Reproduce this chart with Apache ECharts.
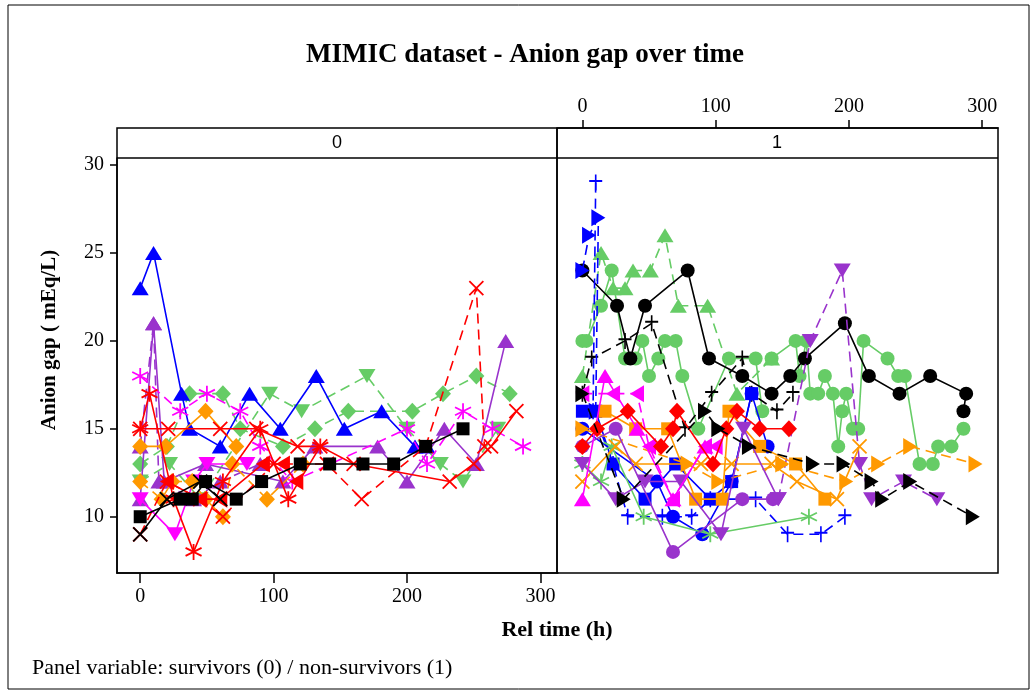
<!DOCTYPE html>
<html>
<head>
<meta charset="utf-8">
<script src="https://cdn.jsdelivr.net/npm/echarts@6/dist/echarts.min.js"></script>
<style>html,body{margin:0;padding:0;background:#fff}#c{width:1036px;height:694px}</style>
</head>
<body>
<div id="c"></div>
<script>
// ---------- DATA (rel time h, anion gap mEq/L) ----------
const xTicks = [0, 100, 200, 300];
const yTicks = [10, 15, 20, 25, 30];
const panelLabels = ['0', '1'];

// Panel 0 (survivors)
const L_blueTri = [[0,23],[10,25],[31,17],[37,15],[60,14],[82,17],[105,15],[132,18],[153,15],[181,16],[206,14],[215,14]];
const L_purpleTri = [[0,11],[10,21],[18,12],[49,13],[107,12],[131,14],[178,14],[200,12],[228,15],[252,13],[274,20]];
const L_purpleTri2 = [[0,14],[10,21],[14,12],[40,11],[60,12],[90,13]];
const L_greenDiam = [[0,13],[20,14],[37,17],[62,17],[75,15],[107,14],[131,15],[156,16],[204,16],[227,17],[252,18],[277,17]];
const L_greenTriDown = [[0,12],[22,13],[45,11],[97,17],[121,16],[170,18],[200,15],[225,13],[242,12],[268,15]];
const L_redX = [[0,15],[21,15],[60,15],[87,15],[118,14],[135,14],[160,13],[232,12],[250,13],[263,14],[282,16]];
const L_redXdash = [[0,9],[20,12],[45,11],[62,10],[100,13],[140,13],[166,11],[214,14],[252,23],[258,14]];
const L_redAster = [[0,15],[7,17],[25,11],[40,8],[62,12],[90,15],[111,11],[135,14]];
const L_redLeftTri = [[20,12],[45,11],[60,11],[92,13],[107,13],[117,12]];
const L_magAster = [[0,18],[30,16],[50,17],[75,16],[90,14],[114,12],[200,15],[215,13],[242,16],[264,15],[287,14]];
const L_magTriDown = [[0,11],[26,9],[40,12],[50,13],[80,13]];
const L_orangeDiam = [[0,14],[19,14],[49,16],[72,14]];
const L_orangeDiam2 = [[0,12],[16,11],[24,12],[39,12],[49,11],[62,10],[69,13],[95,11],[122,13]];
const L_blackSq = [[0,10],[30,11],[39,11],[49,12],[72,11],[91,12],[120,13],[142,13],[167,13],[190,13],[214,14],[242,15]];
const L_blackX = [[0,9],[20,11],[45,12],[60,11]];

// Panel 1 (non-survivors)
const R_blueRTri = [[0,24],[5,26],[12,27],[10,16]];
const R_bluePlus = [[10,29],[8,16],[23,13],[34,10],[60,10],[82,10],[96,11],[130,11],[154,9],[179,9],[197,10]];
const R_blueSq = [[0,16],[10,16],[23,13],[47,11],[70,13],[96,11],[112,12],[127,17]];
const R_blueCirc = [[0,15],[56,12],[68,10],[90,9],[112,12],[127,17],[139,14]];
const R_blackCirc = [[0,24],[26,22],[36,19],[47,22],[79,24],[95,19],[120,18],[142,17],[156,18],[167,19],[197,21],[215,18],[238,17],[261,18],[288,17],[286,16]];
const R_greenCircA = [[0,20],[3,20],[14,22],[22,24],[32,19],[40,19],[45,20],[50,18],[57,19],[62,20],[70,20],[75,18],[87,15],[110,19],[130,19],[135,16]];
const R_greenCircB = [[142,19],[160,20],[163,18],[168,20],[171,17],[177,17],[182,18],[188,17],[192,14],[195,16],[198,17],[203,15],[207,15],[211,20],[229,19],[237,18],[242,18],[253,13],[263,13],[267,14],[277,14],[286,15]];
const R_greenTri = [[0,18],[14,25],[23,23],[32,23],[38,24],[51,24],[62,26],[72,22],[94,22],[116,17],[142,19]];
const R_blackPlus = [[0,17],[7,19],[32,20],[52,21],[77,15],[97,17],[120,19],[127,17],[146,16],[158,17]];
const R_magLTri = [[0,17],[23,17],[41,17],[50,14],[68,11],[92,14],[100,14]];
const R_magTri = [[0,11],[17,18],[41,15],[68,11],[92,14]];
const R_redDiam = [[0,14],[11,15],[34,16],[59,14],[68,15],[71,16],[98,13],[108,15],[116,16],[133,15],[155,15]];
const R_orangeSq = [[17,16],[40,15],[64,15],[85,11],[105,11],[110,16],[133,14],[160,13],[182,11]];
const R_orangeRTri = [[0,15],[79,13],[102,12],[150,13],[198,12],[222,13],[246,14],[295,13]];
const R_orangeX = [[0,12],[25,14],[40,13],[89,13],[112,13],[142,13],[161,12],[191,11],[208,14]];
const R_purpleCirc = [[0,14],[25,15],[68,8],[120,11],[143,11]];
const R_purpleTriDown = [[0,13],[25,11],[47,12],[74,12],[104,9],[121,15],[147,11]];
const R_purpleTriDown2 = [[147,11],[171,20],[195,24],[208,13],[217,11],[241,12],[266,11]];
const R_blackRTri = [[0,17],[31,11],[92,16],[102,15],[125,14],[173,13],[196,13],[217,12],[225,11],[246,12],[293,10]];
const R_greenAster = [[0,13],[14,12],[22,14],[46,10],[96,9],[170,10]];

// ---------- STYLE ----------
const C = {blue:'#0000ff', red:'#ff0000', green:'#66cc66', black:'#000000', orange:'#ff9900', magenta:'#ff00ff', purple:'#9933cc'};
const SYM = {
  circle: {s:'circle', z:14, stroke:false},
  square: {s:'rect', z:13, stroke:false},
  diamond: {s:'diamond', z:[16,17], stroke:false},
  tri: {s:'path://M5,0 L10,9 L0,9 Z', z:[17,14], stroke:false},
  triDown: {s:'path://M0,0 L10,0 L5,9 Z', z:[17,14], stroke:false},
  triR: {s:'path://M0,0 L9,5 L0,10 Z', z:[14,17], stroke:false},
  triL: {s:'path://M9,0 L0,5 L9,10 Z', z:[14,17], stroke:false},
  x: {s:'path://M0,0 L10,10 M10,0 L0,10', z:14, stroke:true},
  aster: {s:'path://M5,0 L5,10 M0.7,2.5 L9.3,7.5 M9.3,2.5 L0.7,7.5', z:16, stroke:true},
  plus: {s:'path://M5,0 L5,10 M0,4 L10,4', z:[13,16], stroke:true}
};
const seriesDefs = [
  [0, L_greenDiam, 'green', 'diamond', true],
  [0, L_greenTriDown, 'green', 'triDown', true],
  [0, L_blueTri, 'blue', 'tri', false],
  [0, L_purpleTri, 'purple', 'tri', false],
  [0, L_purpleTri2, 'purple', 'tri', true],
  [0, L_magAster, 'magenta', 'aster', true],
  [0, L_magTriDown, 'magenta', 'triDown', false],
  [0, L_orangeDiam, 'orange', 'diamond', false],
  [0, L_orangeDiam2, 'orange', 'diamond', true],
  [0, L_redX, 'red', 'x', false],
  [0, L_redXdash, 'red', 'x', true],
  [0, L_redAster, 'red', 'aster', false],
  [0, L_redLeftTri, 'red', 'triL', false],
  [0, L_blackSq, 'black', 'square', false],
  [0, L_blackX, 'black', 'x', false],
  [1, R_greenCircA, 'green', 'circle', false],
  [1, R_greenCircB, 'green', 'circle', false],
  [1, R_greenTri, 'green', 'tri', true],
  [1, R_blackCirc, 'black', 'circle', false],
  [1, R_blackPlus, 'black', 'plus', true],
  [1, R_purpleTriDown2, 'purple', 'triDown', true],
  [1, R_blueRTri, 'blue', 'triR', true],
  [1, R_bluePlus, 'blue', 'plus', true],
  [1, R_blueSq, 'blue', 'square', false],
  [1, R_blueCirc, 'blue', 'circle', false],
  [1, R_greenAster, 'green', 'aster', false],
  [1, R_orangeRTri, 'orange', 'triR', true],
  [1, R_orangeX, 'orange', 'x', false],
  [1, R_orangeSq, 'orange', 'square', false],
  [1, R_purpleCirc, 'purple', 'circle', false],
  [1, R_purpleTriDown, 'purple', 'triDown', false],
  [1, R_magLTri, 'magenta', 'triL', true],
  [1, R_magTri, 'magenta', 'tri', false],
  [1, R_redDiam, 'red', 'diamond', false],
  [1, R_blackRTri, 'black', 'triR', true]
];

const series = seriesDefs.map(([p, data, col, sym, dash], i) => {
  const sd = SYM[sym];
  return {
    type: 'line', xAxisIndex: p, yAxisIndex: p, data: data,
    symbol: sd.s, symbolSize: sd.z, showAllSymbol: true, silent: true, animation: false,
    lineStyle: {color: C[col], width: 1.6, type: dash ? [10, 6] : 'solid'},
    itemStyle: {color: C[col], opacity: 1, borderColor: C[col], borderWidth: sd.stroke ? 1.8 : 0},
    z: 2 + i * 0.01
  };
});

const serif = 'Liberation Serif';
const xAx = (g, min, max, top) => ({
  gridIndex: g, type: 'value', min: min, max: max,
  position: top ? 'top' : 'bottom', offset: top ? 30 : 0,
  axisLine: {show: top || g === 0, onZero: false, lineStyle: {color: '#000', width: 1.5}},
  axisTick: {show: top || g === 0, customValues: xTicks, length: top ? 8 : 10, lineStyle: {color: '#000', width: 1.5}},
  axisLabel: {show: top || g === 0, customValues: xTicks, fontFamily: serif, fontSize: 20, color: '#000', margin: top ? 11 : 14},
  splitLine: {show: false}
});

const chart = echarts.init(document.getElementById('c'), null, {renderer: 'canvas'});
chart.setOption({
  backgroundColor: '#fff',
  animation: false,
  grid: [
    {left: 117, top: 158, width: 441, height: 415},
    {left: 558, top: 158, width: 440, height: 415}
  ],
  xAxis: [xAx(0, -17.4, 313.2, false), xAx(1, -18.3, 311.9, true)],
  yAxis: [
    {gridIndex: 0, type: 'value', min: 6.8, max: 30.4,
     axisLine: {show: true, onZero: false, lineStyle: {color: '#000', width: 1.5}},
     axisTick: {show: true, customValues: yTicks, length: 7, lineStyle: {color: '#000', width: 1.5}},
     axisLabel: {customValues: yTicks, fontFamily: serif, fontSize: 20, color: '#000', margin: 13},
     splitLine: {show: false}},
    {gridIndex: 1, type: 'value', min: 6.8, max: 30.4, show: false, splitLine: {show: false}}
  ],
  series: series,
  graphic: [
    {type: 'rect', shape: {x: 8, y: 5, width: 1021, height: 684}, style: {fill: 'none', stroke: '#000', lineWidth: 1}, z: 0, silent: true},
    {type: 'rect', shape: {x: 117, y: 128, width: 440, height: 445}, style: {fill: 'none', stroke: '#000', lineWidth: 1.5}, z: 10, silent: true},
    {type: 'rect', shape: {x: 557, y: 128, width: 441, height: 445}, style: {fill: 'none', stroke: '#000', lineWidth: 1.5}, z: 10, silent: true},
    {type: 'line', shape: {x1: 117, y1: 158, x2: 998, y2: 158}, style: {stroke: '#000', lineWidth: 1.5}, z: 10, silent: true},
    {type: 'text', x: 337, y: 143, style: {text: panelLabels[0], font: '18px "Liberation Sans"', fill: '#000', align: 'center', verticalAlign: 'middle'}, z: 10},
    {type: 'text', x: 777, y: 143, style: {text: panelLabels[1], font: '18px "Liberation Sans"', fill: '#000', align: 'center', verticalAlign: 'middle'}, z: 10},
    {type: 'text', x: 525, y: 55, style: {text: 'MIMIC dataset - Anion gap over time', font: 'bold 27px "Liberation Serif"', fill: '#000', align: 'center', verticalAlign: 'middle'}, z: 10},
    {type: 'text', x: 557, y: 630, style: {text: 'Rel time (h)', font: 'bold 22px "Liberation Serif"', fill: '#000', align: 'center', verticalAlign: 'middle'}, z: 10},
    {type: 'text', x: 50, y: 340, rotation: Math.PI / 2, style: {text: 'Anion gap ( mEq/L)', font: 'bold 21px "Liberation Serif"', fill: '#000', align: 'center', verticalAlign: 'middle'}, z: 10},
    {type: 'text', x: 32, y: 668, style: {text: 'Panel variable: survivors (0) / non-survivors (1)', font: '22px "Liberation Serif"', fill: '#000', align: 'left', verticalAlign: 'middle'}, z: 10}
  ]
});
</script>
</body>
</html>
